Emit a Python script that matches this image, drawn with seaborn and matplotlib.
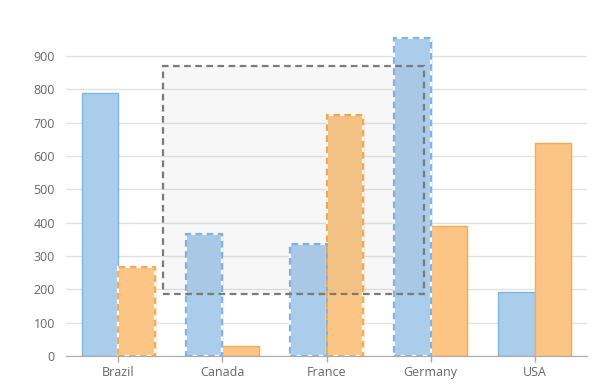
#gráfico de barras agrupadas con selección
import pandas as pd
import matplotlib.pyplot as plt
from matplotlib.patches import Rectangle
import seaborn as sns

#datos
paises = ["Brazil", "Canada", "France", "Germany", "USA"]
serie1 = [790, 367, 337, 955, 191]
serie2 = [267, 31, 723, 389, 639]
#barras seleccionadas (borde punteado)
sel1 = [False, True, True, True, False]
sel2 = [True, False, True, False, False]
#rectángulo de selección en coordenadas de datos
sel_x = [0.43, 2.94]
sel_y = [186, 870]

df = pd.DataFrame({
    "Pais": paises * 2,
    "Serie": ["Serie 1"] * 5 + ["Serie 2"] * 5,
    "Valor": serie1 + serie2,
})

sns.set_style("white")
plt.rcParams["font.family"] = ["Open Sans", "DejaVu Sans"]

fig = plt.figure(figsize=(6.11, 3.90), dpi=100)
ax = fig.add_axes([66 / 611, 34 / 390, 521 / 611, 333.3 / 390])

colores = ["#abcdec", "#fbc685"]
bordes = ["#80b4e2", "#f6ac4e"]

sns.barplot(data=df, x="Pais", y="Valor", hue="Serie", palette=colores,
            width=0.7, saturation=1, legend=False, ax=ax, zorder=2)

for cont, borde, sel in zip(ax.containers, bordes, [sel1, sel2]):
    for barra, s in zip(cont.patches, sel):
        barra.set_edgecolor(borde)
        barra.set_linewidth(1.0)
        if s:
            x0, y0 = barra.get_xy()
            w, h = barra.get_width(), barra.get_height()
            ax.add_patch(Rectangle((x0, y0), w, h, fill=False, edgecolor="white",
                                   linewidth=1.6, zorder=3))
            ax.add_patch(Rectangle((x0, y0), w, h, fill=False, edgecolor=borde,
                                   linewidth=1.6, linestyle=(0, (3, 2)), zorder=3.1))

#rectángulo de selección
ax.add_patch(Rectangle((sel_x[0], sel_y[0]), sel_x[1] - sel_x[0], sel_y[1] - sel_y[0],
                       facecolor="#808080", alpha=0.06, edgecolor="none", zorder=4))
ax.add_patch(Rectangle((sel_x[0], sel_y[0]), sel_x[1] - sel_x[0], sel_y[1] - sel_y[0],
                       fill=False, edgecolor="#7a7a7a", linewidth=1.6,
                       linestyle=(0, (3, 2)), zorder=4.1))

ax.set_xlim(-0.5, 4.5)
ax.set_ylim(0, 1000)
ax.set_yticks(range(0, 1000, 100))
ax.grid(axis="y", color="#e2e2e2", linewidth=1, zorder=0)
ax.set_axisbelow(True)
ax.set_xlabel("")
ax.set_ylabel("")

for lado in ["top", "right", "left"]:
    ax.spines[lado].set_visible(False)
ax.spines["bottom"].set_color("#aaaaaa")
ax.spines["bottom"].set_zorder(5)

ax.tick_params(axis="x", colors="#aaaaaa", length=4, width=1, direction="out",
               labelcolor="#666666", labelsize=9, pad=3, bottom=True)
ax.tick_params(axis="y", length=0, labelcolor="#666666", labelsize=9, pad=8)

fig.savefig("out.png", dpi=100)
